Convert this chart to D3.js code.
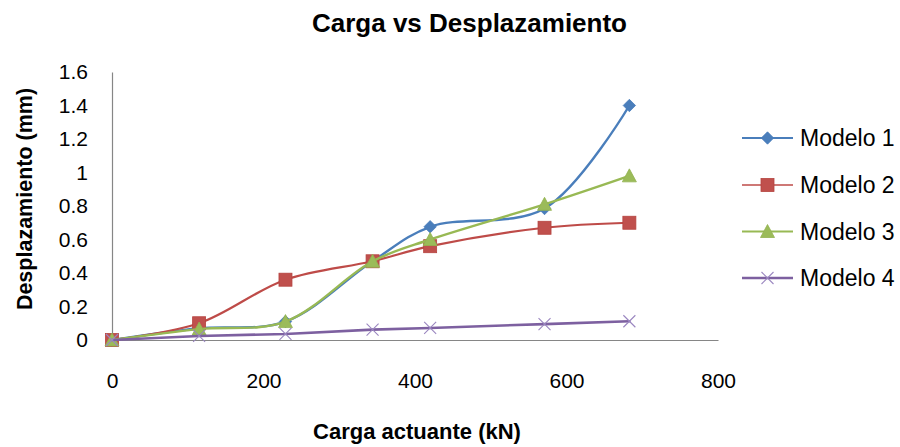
<!DOCTYPE html>
<html>
<head>
<meta charset="utf-8">
<script src="https://cdn.jsdelivr.net/npm/d3@7"></script>
<style>
  html, body { margin: 0; padding: 0; background: #fff; }
  svg { display: block; font-family: "Liberation Sans", Arial, sans-serif; }
</style>
</head>
<body>
<svg id="chart" width="900" height="447"></svg>
<script>
// Load (kN) applied at each step
const cargas = [0, 115, 229, 344, 420, 571, 683];

// Measured displacement (mm) for each model
const modelo1 = [0, 0.07, 0.11, 0.47, 0.676, 0.785, 1.40];
const modelo2 = [0, 0.10, 0.36, 0.47, 0.56, 0.67, 0.70];
const modelo3 = [0, 0.065, 0.11, 0.47, 0.60, 0.81, 0.98];
const modelo4 = [0, 0.024, 0.036, 0.062, 0.072, 0.095, 0.112];

const seriesNames = ["Modelo 1", "Modelo 2", "Modelo 3", "Modelo 4"];

// Axis ticks
const xTicks = [0, 200, 400, 600, 800];
const xTickLabels = ["0", "200", "400", "600", "800"];
const yTicks = [0, 0.2, 0.4, 0.6, 0.8, 1, 1.2, 1.4, 1.6];
const yTickLabels = ["0", "0.2", "0.4", "0.6", "0.8", "1", "1.2", "1.4", "1.6"];

const chartTitle = "Carga vs Desplazamiento";
const xTitle = "Carga actuante (kN)";
const yTitle = "Desplazamiento (mm)";

const series = [
  { name: seriesNames[0], values: modelo1, color: "#4A7EBB", marker: "diamond", width: 2.4 },
  { name: seriesNames[1], values: modelo2, color: "#BE4B48", marker: "square", width: 2.2 },
  { name: seriesNames[2], values: modelo3, color: "#98B954", marker: "triangle", width: 2.4 },
  { name: seriesNames[3], values: modelo4, color: "#7D60A0", marker: "cross", width: 2.6 }
];

const svg = d3.select("#chart");
svg.append("rect").attr("width", 900).attr("height", 447).attr("fill", "#fff");

const x = d3.scaleLinear().domain([0, 800]).range([112, 718]);
const y = d3.scaleLinear().domain([0, 1.6]).range([340, 72]);

// Axes
const axisColor = "#868686";
const yAxis = svg.append("g")
  .attr("transform", `translate(${x(0)},0)`)
  .call(d3.axisLeft(y).tickValues(yTicks).tickSize(0).tickSizeOuter(0).tickPadding(24)
    .tickFormat((d, i) => yTickLabels[i]));
const xAxis = svg.append("g")
  .attr("transform", `translate(0,${y(0)})`)
  .call(d3.axisBottom(x).tickValues(xTicks).tickSize(0).tickSizeOuter(0).tickPadding(33)
    .tickFormat((d, i) => xTickLabels[i]));
[xAxis, yAxis].forEach(g => {
  g.select(".domain").attr("stroke", axisColor).attr("stroke-width", 1.2);
  g.selectAll("text").attr("font-size", 21).attr("fill", "#000")
    .attr("font-family", "'Liberation Sans', Arial, sans-serif");
});

// Marker drawing
function drawMarker(g, type, color) {
  if (type === "diamond") {
    g.append("path").attr("d", "M0,-6.2L6.2,0L0,6.2L-6.2,0Z").attr("fill", color).attr("stroke", color).attr("stroke-width", 0.8);
  } else if (type === "square") {
    g.append("rect").attr("x", -6.5).attr("y", -6.5).attr("width", 13).attr("height", 13)
      .attr("fill", "#C0504D").attr("stroke", "#B5433F").attr("stroke-width", 0.8);
  } else if (type === "triangle") {
    g.append("path").attr("d", "M0,-7L7,6L-7,6Z").attr("fill", "#9BBB59").attr("stroke", "#93B350").attr("stroke-width", 0.8);
  } else if (type === "cross") {
    g.append("path").attr("d", "M-6,-6L6,6M-6,6L6,-6").attr("fill", "none")
      .attr("stroke", "#9B87C0").attr("stroke-width", 1.1);
  }
}

// Lines and markers
const plot = svg.append("g");
series.forEach(s => {
  const pts = cargas.map((c, i) => [c, s.values[i]]);
  const line = d3.line()
    .x(d => x(d[0])).y(d => y(d[1]))
    .curve(s.marker === "cross" ? d3.curveLinear : d3.curveCatmullRom.alpha(0.5));
  const g = plot.append("g");
  g.append("path").datum(pts).attr("d", line)
    .attr("fill", "none").attr("stroke", s.color).attr("stroke-width", s.width)
    .attr("stroke-linejoin", "round").attr("stroke-linecap", "round");
  g.selectAll("g.m").data(pts).join("g").attr("class", "m")
    .attr("transform", d => `translate(${x(d[0])},${y(d[1])})`)
    .each(function () { drawMarker(d3.select(this), s.marker, s.color); });
});

// Legend
const legendRows = [138, 185, 231.5, 278];
const legend = svg.append("g");
series.forEach((s, i) => {
  const row = legend.append("g").attr("transform", `translate(0,${legendRows[i]})`);
  row.append("line").attr("x1", 742).attr("x2", 793).attr("y1", 0).attr("y2", 0)
    .attr("stroke", s.color).attr("stroke-width", s.marker === "square" ? 1.3 : (s.marker === "cross" ? 2.6 : 2.2));
  const m = row.append("g").attr("transform", "translate(767.5,0)");
  drawMarker(m, s.marker, s.color);
  row.append("text").attr("x", 800).attr("y", 0).attr("dy", "0.36em")
    .attr("font-size", 23).attr("fill", "#000").text(s.name);
});

// Titles
svg.append("text").attr("x", 469.5).attr("y", 32).attr("text-anchor", "middle")
  .attr("font-size", 26).attr("font-weight", "bold").attr("fill", "#000")
  .text(chartTitle);
svg.append("text").attr("x", 417).attr("y", 439).attr("text-anchor", "middle")
  .attr("font-size", 22).attr("font-weight", "bold").attr("fill", "#000")
  .text(xTitle);
svg.append("text").attr("transform", "translate(32,199) rotate(-90)").attr("text-anchor", "middle")
  .attr("font-size", 21.5).attr("font-weight", "bold").attr("fill", "#000")
  .text(yTitle);
</script>
</body>
</html>
